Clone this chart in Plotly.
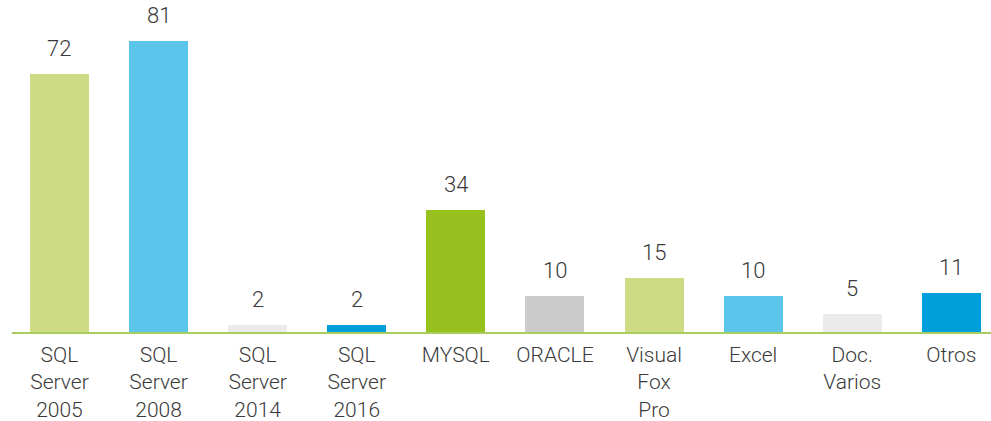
import plotly.graph_objects as go

categories = ["SQL<br>Server<br>2005", "SQL<br>Server<br>2008", "SQL<br>Server<br>2014",
              "SQL<br>Server<br>2016", "MYSQL", "ORACLE", "Visual<br>Fox<br>Pro",
              "Excel", "Doc.<br>Varios", "Otros"]
values = [72, 81, 2, 2, 34, 10, 15, 10, 5, 11]
colors = ["#CDDC84", "#5BC5EC", "#EBEBEB", "#009FDB", "#97C11F",
          "#CCCCCC", "#CDDC84", "#5BC5EC", "#EBEBEB", "#009FDB"]

FONT = "Roboto, sans-serif"
TXT = "#3a3a3a"

fig = go.Figure()
fig.add_trace(go.Bar(x=list(range(len(categories))), y=values,
                     marker=dict(color=colors, line=dict(width=0)),
                     width=0.595, hoverinfo="skip"))

# value labels above bars
for i, v in enumerate(values):
    fig.add_annotation(x=i, y=v, text=str(v), showarrow=False, yanchor="bottom",
                       yshift=11, font=dict(family=FONT, size=22, color=TXT, weight=300))

fig.update_xaxes(tickmode="array", tickvals=list(range(len(categories))),
                 ticktext=categories, range=[-0.479, 9.4], automargin=False,
                 showline=True, linecolor="#A9CC5A", linewidth=1.5,
                 showgrid=False, zeroline=False, ticks="", ticklabelstandoff=3,
                 tickfont=dict(family=FONT, size=21, color=TXT, weight=300))
fig.update_yaxes(visible=False, range=[0, 90], showgrid=False, zeroline=False)
fig.update_layout(width=991, height=421, showlegend=False,
                  margin=dict(l=12, r=0, t=9, b=89),
                  plot_bgcolor="white", paper_bgcolor="white", bargap=0)

post = "document.body.style.margin='0';"
fig.write_html("out.html", post_script=post, config={"displayModeBar": False})
